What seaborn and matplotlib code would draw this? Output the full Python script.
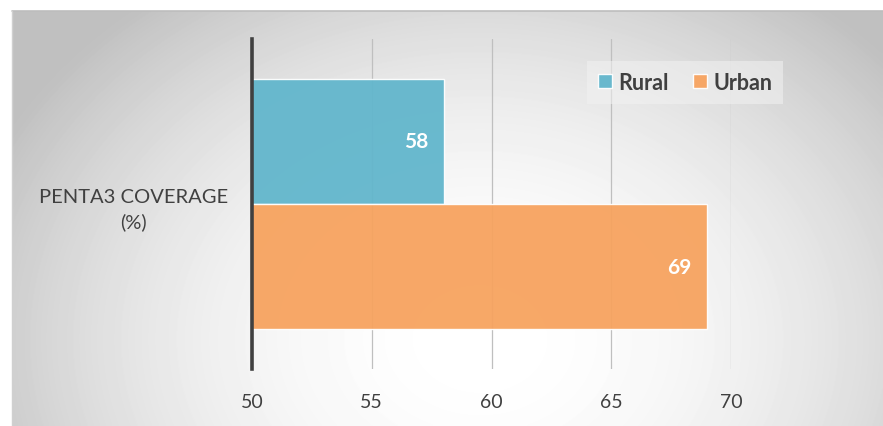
import numpy as np
import pandas as pd
import matplotlib
matplotlib.use("Agg")
import matplotlib.pyplot as plt
from matplotlib.lines import Line2D
import seaborn as sns

# Chart data
categories = ["PENTA3 COVERAGE\n(%)"]
areas = ["Rural", "Urban"]
rural = [58]
urban = [69]
x_ticks = [50, 55, 60, 65, 70]
colors = {"Rural": "#62B6CC", "Urban": "#F7A35F"}

df = pd.DataFrame({
    "indicator": categories * 2,
    "area": ["Rural"] * len(rural) + ["Urban"] * len(urban),
    "value": rural + urban,
})

sns.set_theme(style="white")
plt.rcParams["font.family"] = ["Lato", "DejaVu Sans"]

W, H = 883, 427
fig = plt.figure(figsize=(W / 100, H / 100), dpi=100)
fig.patch.set_facecolor("white")

# Radial grey background panel
x0, y0 = 12, 12
bg = fig.add_axes([x0 / W, 0, 1 - x0 / W, 1 - y0 / H], zorder=0)
yy, xx = np.mgrid[y0:H, x0:W].astype(float)
d2 = (xx - 480) ** 2 + ((yy - 340) / 0.8) ** 2
shade = np.clip(1 - 8.5e-7 * d2, 0.75, 1.0)
bg.imshow(shade, cmap="gray", vmin=0, vmax=1, aspect="auto", interpolation="bilinear")
bg.set_axis_off()
# panel border (top and left edges)
fig.add_artist(Line2D([x0 / W, 1], [1 - y0 / H, 1 - y0 / H], color="#bdbdbd", lw=1.2,
                      transform=fig.transFigure))
fig.add_artist(Line2D([x0 / W, x0 / W], [0, 1 - y0 / H], color="#d0d0d0", lw=1.0,
                      transform=fig.transFigure))

# Main plot area
ax = fig.add_axes([252 / W, 57 / H, (731 - 252) / W, 330 / H], zorder=1)
ax.patch.set_alpha(0)
sns.barplot(data=df, y="indicator", x="value", hue="area", hue_order=areas,
            palette=colors, width=0.76, saturation=1, orient="h",
            edgecolor="white", linewidth=1.0, alpha=0.95, ax=ax)

ax.set_xlim(50, 70)
ax.set_xticks(x_ticks)
ax.set_xticklabels([str(t) for t in x_ticks])
ax.set_axisbelow(True)
ax.grid(axis="x", color="#bfbfbf", lw=0.9)
ax.grid(axis="y", visible=False)
for s in ["top", "right", "bottom"]:
    ax.spines[s].set_visible(False)
ax.spines["left"].set_color("#404040")
ax.spines["left"].set_linewidth(2.6)
ax.tick_params(axis="x", length=0, pad=17, labelsize=14, labelcolor="#404040")
ax.tick_params(axis="y", length=0, pad=17, labelsize=14.5, labelcolor="#404040")
for lab in ax.get_yticklabels():
    lab.set_multialignment("center")
    lab.set_linespacing(1.45)
ax.set_xlabel("")
ax.set_ylabel("")

# Value labels inside bar ends
for cont, area in zip(ax.containers, areas):
    for rect in cont:
        val = rect.get_width()
        yc = rect.get_y() + rect.get_height() / 2
        ax.annotate(f"{val:.0f}", (val, yc), xytext=(-11, 0), textcoords="offset points",
                    ha="right", va="center", color="white", fontsize=15,
                    fontweight="bold")

# Legend
handles, labels = ax.get_legend_handles_labels()
if ax.get_legend() is not None:
    ax.get_legend().remove()
leg = fig.legend(handles, labels, loc="upper right", bbox_to_anchor=(783 / W, 1 - 62 / H),
                 ncol=2, frameon=True, fancybox=False, facecolor="#f2f2f2",
                 framealpha=0.55, edgecolor="none",
                 prop={"weight": "bold", "size": 15.5},
                 handlelength=0.65, handleheight=0.65, handletextpad=0.3,
                 columnspacing=1.1, borderpad=0.5, borderaxespad=0)
for t in leg.get_texts():
    t.set_color("#404040")

fig.savefig("out.png", dpi=100)
